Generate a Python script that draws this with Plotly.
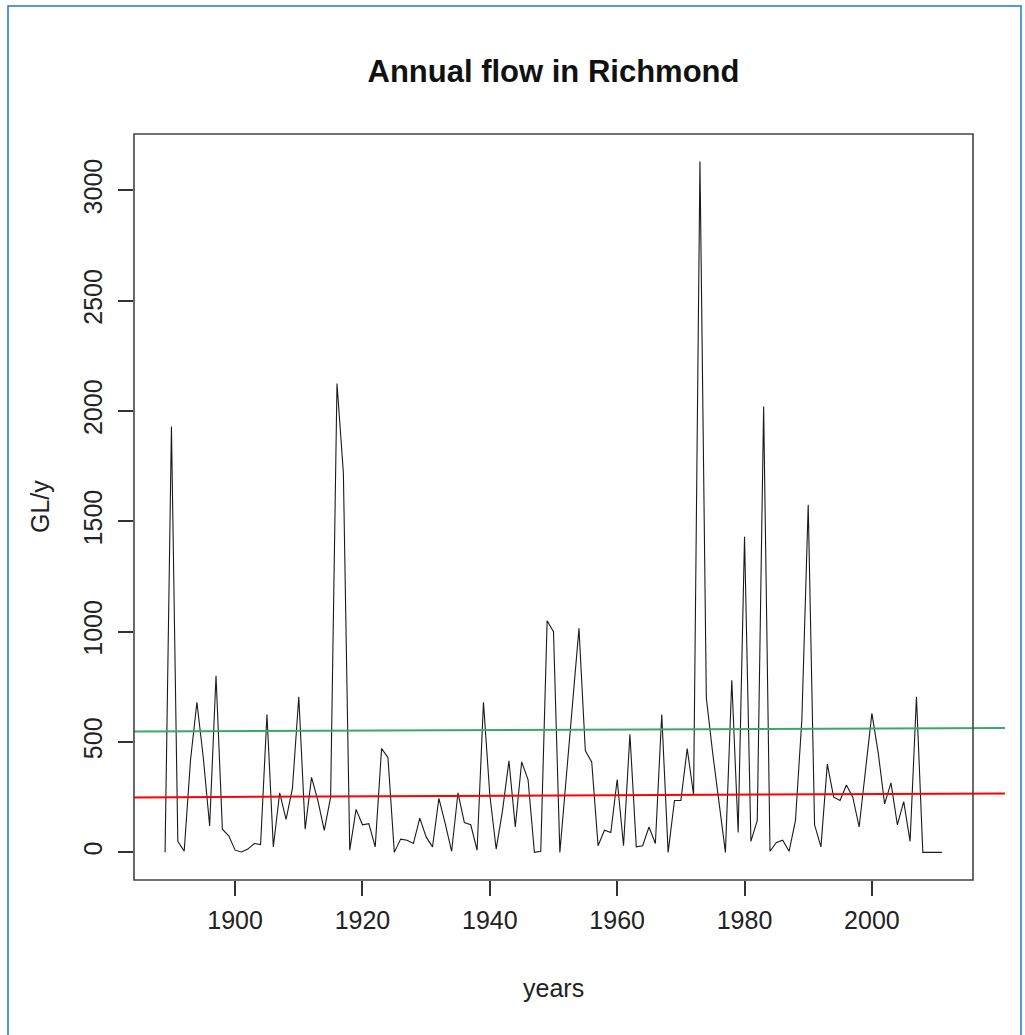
import plotly.graph_objects as go

# ---- data ----
years = list(range(1889, 2012))
flow = [
    0, 1930, 50, 5, 420, 680, 430, 120, 800, 105, 75,          # 1889-1899
    10, 2, 15, 40, 35, 625, 25, 270, 150, 290,                 # 1900-1909
    705, 105, 340, 235, 100, 250, 2125, 1720, 10, 195,         # 1910-1919
    125, 130, 25, 470, 430, 0, 60, 55, 40, 155,                # 1920-1929
    70, 25, 245, 130, 5, 270, 135, 125, 10, 680,               # 1930-1939
    260, 15, 190, 415, 115, 410, 330, 0, 5, 1050,              # 1940-1949
    1000, 0, 330, 680, 1015, 460, 410, 30, 100, 90,            # 1950-1959
    330, 30, 535, 25, 30, 115, 40, 625, 0, 235,                # 1960-1969
    235, 470, 260, 3130, 700, 450, 230, 0, 780, 90,            # 1970-1979
    1430, 50, 145, 2020, 5, 45, 55, 5, 145, 600,               # 1980-1989
    1575, 125, 25, 400, 250, 235, 305, 250, 115, 380,          # 1990-1999
    630, 450, 220, 315, 125, 230, 50, 705, 0, 0,               # 2000-2009
    0, 0,                                                      # 2010-2011
]
assert len(flow) == len(years)

# reference lines (green and red), given at their end years
line_years = [1884.1, 2020.9]
green_line = [548, 564]
red_line = [249, 267]

x_ticks = [1900, 1920, 1940, 1960, 1980, 2000]
y_ticks = [0, 500, 1000, 1500, 2000, 2500, 3000]

title_text = "Annual flow in Richmond"
x_title = "years"
y_title = "GL/y"

# ---- layout geometry (pixels) ----
W, H = 1025, 1035
box_l, box_r, box_t, box_b = 134, 973, 134, 880
area_r = 1005
ML, MR, MT, MB = box_l, W - area_r, box_t, H - box_b
area_w = area_r - box_l
area_h = box_b - box_t
dom = (box_r - box_l) / area_w

# R-like axis ranges (4% padding)
span = max(years) - min(years)
xr = [min(years) - 0.04 * span, max(years) + 0.04 * span]
ymax = max(flow)
yr = [-0.04 * ymax, ymax * 1.04]
xr2 = [xr[0], xr[0] + (xr[1] - xr[0]) / dom]

FONT = "Liberation Sans"

fig = go.Figure()
fig.add_trace(go.Scatter(x=years, y=flow, mode="lines",
                         line=dict(color="#1a1a1a", width=1.1),
                         xaxis="x", yaxis="y", showlegend=False))
fig.add_trace(go.Scatter(x=line_years, y=green_line, mode="lines",
                         line=dict(color="#3aa86a", width=2),
                         xaxis="x2", yaxis="y", showlegend=False))
fig.add_trace(go.Scatter(x=line_years, y=red_line, mode="lines",
                         line=dict(color="#ff0000", width=2),
                         xaxis="x2", yaxis="y", showlegend=False))

axis_font = dict(family=FONT, size=25, color="#222")

fig.update_layout(
    width=W, height=H,
    margin=dict(l=ML, r=MR, t=MT, b=MB, pad=0),
    paper_bgcolor="white", plot_bgcolor="rgba(0,0,0,0)",
    showlegend=False,
    title=dict(text="<b>" + title_text + "</b>",
               x=((box_l + box_r) / 2) / W, xref="container", xanchor="center",
               y=1 - 71 / H, yref="container", yanchor="middle",
               font=dict(family=FONT, size=31, color="#111")),
    xaxis=dict(domain=[0, dom], range=xr, tickvals=x_ticks,
               ticktext=[str(t) for t in x_ticks],
               ticks="outside", ticklen=15, tickwidth=1.5, tickcolor="#333",
               showgrid=False, zeroline=False, showline=False,
               tickfont=axis_font, ticklabelstandoff=3),
    xaxis2=dict(domain=[0, 1], range=xr2, anchor="y", visible=False,
                showgrid=False, zeroline=False),
    yaxis=dict(range=yr, tickvals=y_ticks, ticktext=[str(t) for t in y_ticks],
               ticks="outside", ticklen=15, tickwidth=1.5, tickcolor="#333",
               showgrid=False, zeroline=False, showline=False,
               tickangle=-90, tickfont=axis_font, ticklabelstandoff=6,
               anchor="x"),
)

# plot frame (R box)
fig.add_shape(type="rect", xref="x domain", yref="y domain",
              x0=0, x1=1, y0=0, y1=1,
              line=dict(color="#444", width=1.6), fillcolor="rgba(0,0,0,0)")

# axis titles
fig.add_annotation(text=x_title, xref="paper", yref="paper",
                   x=((box_l + box_r) / 2 - box_l) / area_w,
                   y=(box_b - 988) / area_h, showarrow=False,
                   xanchor="center", yanchor="middle",
                   font=dict(family=FONT, size=25, color="#222"))
fig.add_annotation(text=y_title, xref="paper", yref="paper",
                   x=(40 - box_l) / area_w,
                   y=0.5, showarrow=False, textangle=-90,
                   xanchor="center", yanchor="middle",
                   font=dict(family=FONT, size=25, color="#222"))

# blue page border
fig.add_shape(type="rect", xref="paper", yref="paper",
              x0=(8 - box_l) / area_w, x1=(1021 - box_l) / area_w,
              y0=(box_b - 1040) / area_h, y1=(box_b - 6) / area_h,
              line=dict(color="#1e78d0", width=1.5), fillcolor="rgba(0,0,0,0)")

fig.write_html("out.html", config={"displayModeBar": False},
               post_script="document.body.style.margin='0';document.body.style.overflow='hidden';")
